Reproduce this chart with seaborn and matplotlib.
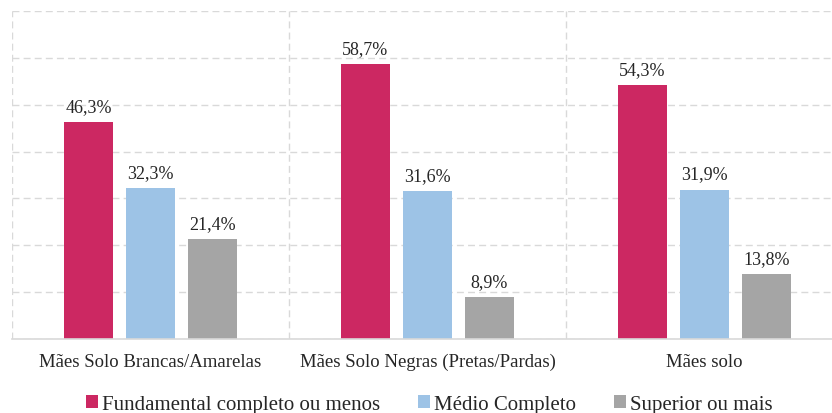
import numpy as np
import pandas as pd
import matplotlib.pyplot as plt
import seaborn as sns

# data
grupos = ['Mães Solo Brancas/Amarelas', 'Mães Solo Negras (Pretas/Pardas)', 'Mães solo']
escolaridade = ['Fundamental completo ou menos', 'Médio Completo', 'Superior ou mais']
fundamental = [46.3, 58.7, 54.3]
medio = [32.3, 31.6, 31.9]
superior = [21.4, 8.9, 13.8]
cores = ['#CC2862', '#9DC3E6', '#A5A5A5']

df = pd.DataFrame({
    'grupo': grupos * 3,
    'nivel': np.repeat(escolaridade, 3),
    'valor': fundamental + medio + superior,
})

sns.set_theme(style='white')
plt.rcParams['font.family'] = ['Liberation Serif', 'DejaVu Serif']

fig = plt.figure(figsize=(8.32, 4.14), dpi=100)
ax = fig.add_axes([12 / 832, 74 / 414, 831 / 832, 328 / 414])

sns.barplot(data=df, x='grupo', y='valor', hue='nivel', order=grupos,
            hue_order=escolaridade, palette=cores, width=0.672, gap=0.21,
            saturation=1, ax=ax, legend=True, edgecolor='none')

ax.set_ylim(0, 70)
ax.set_xlim(-0.5, 2.5)
ax.set_yticks(np.arange(0, 71, 10))
ax.yaxis.grid(True, color='#D9D9D9', linestyle=(0, (5, 3)), linewidth=1)
ax.set_axisbelow(True)
for xv in [-0.5, 0.5, 1.5]:
    ax.axvline(xv, color='#D9D9D9', linestyle=(0, (5, 3)), linewidth=1, zorder=0)
ax.tick_params(axis='y', left=False, labelleft=False)
ax.tick_params(axis='x', bottom=False, labelsize=13.5, colors='#262626', pad=4)
ax.set_xlabel('')
ax.set_ylabel('')
for s in ['top', 'right', 'left']:
    ax.spines[s].set_visible(False)
ax.spines['bottom'].set_color('#D9D9D9')
ax.spines['bottom'].set_linewidth(1.2)

for cont in ax.containers:
    ax.bar_label(cont, labels=[f'{v:.1f}%'.replace('.', ',') for v in cont.datavalues],
                 padding=5, fontsize=13, color='#262626')

ax.legend(loc='center', bbox_to_anchor=(0.502, -0.2), ncol=3, frameon=False,
          fontsize=15, handlelength=0.58, handleheight=0.58, handletextpad=0.2,
          columnspacing=1.8, labelcolor='#262626')

fig.savefig('out.png', dpi=100)
